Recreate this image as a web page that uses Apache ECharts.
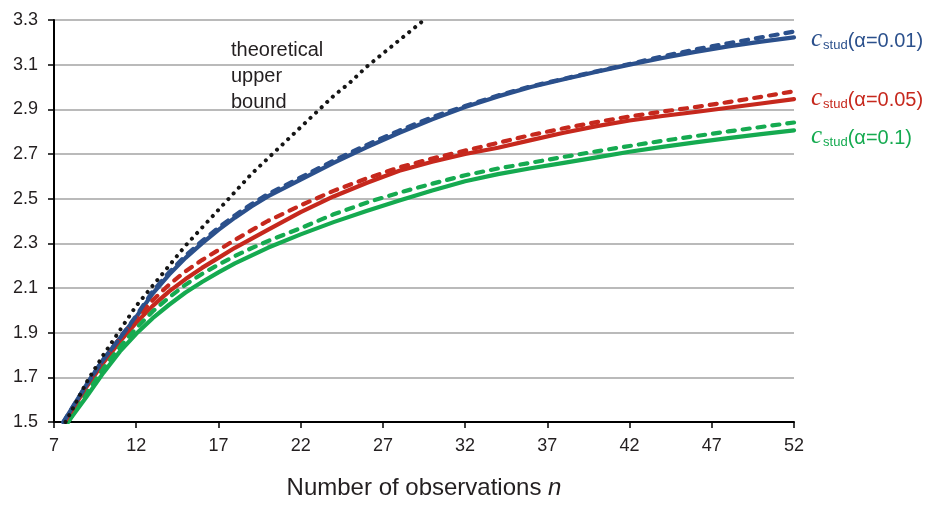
<!DOCTYPE html>
<html>
<head>
<meta charset="utf-8">
<script src="https://cdn.jsdelivr.net/npm/echarts@6/dist/echarts.min.js"></script>
<style>
html,body{margin:0;padding:0;background:#fff;}
#chart{width:932px;height:505px;}
</style>
</head>
<body>
<div id="chart"></div>
<script>
// ---- data ----
const xTicks = [7, 12, 17, 22, 27, 32, 37, 42, 47, 52];
const yTicks = [1.5, 1.7, 1.9, 2.1, 2.3, 2.5, 2.7, 2.9, 3.1, 3.3];

const boundN = [7.7, 8, 9, 10, 11, 12, 13, 14, 15, 16, 17, 18, 19, 20, 21, 22, 23, 24, 25, 26, 27, 28, 29, 29.5];
const boundV = [1.50, 1.54, 1.68, 1.80, 1.91, 2.02, 2.11, 2.20, 2.29, 2.37, 2.45, 2.53, 2.61, 2.68, 2.75, 2.82, 2.89, 2.96, 3.02, 3.09, 3.15, 3.21, 3.27, 3.30];

const n01 = [7.57, 9, 10, 11, 12, 13, 14, 15, 16, 17, 18, 19, 20, 22, 24, 26, 28, 30, 32, 34, 36, 38, 40, 42, 44, 46, 48, 50, 52];
const solid01 = [1.50, 1.67, 1.78, 1.875, 1.97, 2.075, 2.16, 2.235, 2.30, 2.36, 2.415, 2.465, 2.51, 2.585, 2.66, 2.73, 2.795, 2.855, 2.91, 2.958, 3.00, 3.035, 3.068, 3.10, 3.13, 3.157, 3.182, 3.203, 3.222];
const dashed01 = [1.50, 1.67, 1.78, 1.875, 1.975, 2.085, 2.17, 2.245, 2.31, 2.37, 2.425, 2.475, 2.52, 2.595, 2.67, 2.74, 2.805, 2.865, 2.915, 2.962, 3.003, 3.037, 3.07, 3.103, 3.137, 3.168, 3.196, 3.222, 3.248];

const n05 = [7.65, 9, 10, 11, 12, 13, 14, 15, 16, 17, 18, 19, 20, 22, 24, 26, 28, 30, 32, 34, 36, 38, 40, 42, 44, 46, 48, 50, 52];
const solid05 = [1.50, 1.66, 1.765, 1.86, 1.945, 2.02, 2.085, 2.14, 2.19, 2.235, 2.28, 2.32, 2.36, 2.44, 2.51, 2.57, 2.625, 2.665, 2.70, 2.728, 2.762, 2.795, 2.825, 2.85, 2.87, 2.888, 2.907, 2.926, 2.946];
const dashed05 = [1.50, 1.665, 1.775, 1.875, 1.965, 2.045, 2.115, 2.175, 2.225, 2.27, 2.315, 2.358, 2.40, 2.47, 2.535, 2.59, 2.64, 2.68, 2.715, 2.75, 2.785, 2.815, 2.843, 2.868, 2.89, 2.91, 2.932, 2.956, 2.981];

const n10 = [7.85, 9, 10, 11, 12, 13, 14, 15, 16, 17, 18, 19, 20, 22, 24, 26, 28, 30, 32, 34, 36, 38, 40, 42, 44, 46, 48, 50, 52];
const solid10 = [1.50, 1.615, 1.72, 1.815, 1.895, 1.965, 2.025, 2.08, 2.127, 2.17, 2.21, 2.245, 2.28, 2.34, 2.395, 2.445, 2.492, 2.537, 2.578, 2.61, 2.636, 2.66, 2.685, 2.71, 2.732, 2.752, 2.771, 2.789, 2.806];
const dashed10 = [1.50, 1.63, 1.74, 1.835, 1.92, 1.995, 2.058, 2.115, 2.163, 2.205, 2.243, 2.278, 2.31, 2.368, 2.43, 2.482, 2.527, 2.567, 2.605, 2.635, 2.661, 2.687, 2.712, 2.736, 2.759, 2.78, 2.801, 2.821, 2.841];

const seriesLabels = ['(α=0.01)', '(α=0.05)', '(α=0.1)'];
const boundText = 'theoretical\nupper\nbound';

// ---- styling ----
const BLUE = '#2b508c', RED = '#c6281d', GREEN = '#15aa50';
const FONT = '"Liberation Sans", Arial, Helvetica, sans-serif';

function pts(xs, ys) { return xs.map((x, i) => [x, ys[i]]); }

function endLab(text, color, dy) {
  return {
    show: true,
    formatter: '{c|c}{s|stud}{p|' + text + '}',
    offset: [9, dy],
    color: color,
    rich: {
      c: { fontFamily: '"Liberation Serif", "Times New Roman", serif', fontStyle: 'italic', fontSize: 25, color: color, padding: [0, 1, 3, 0] },
      s: { fontFamily: FONT, fontSize: 13, color: color, padding: [9, 0, 0, 0] },
      p: { fontFamily: FONT, fontSize: 20, color: color }
    }
  };
}

function line(name, data, color, dashed, label) {
  const s = {
    name: name,
    type: 'line',
    data: data,
    showSymbol: false,
    symbol: 'none',
    smooth: false,
    clip: true,
    silent: true,
    lineStyle: { color: color, width: dashed ? 4.2 : 4.2, type: dashed ? [7, 8] : 'solid', cap: 'round', join: 'round' },
    z: dashed ? 3 : 2
  };
  if (label) s.endLabel = label;
  return s;
}

const series = [
  line('g solid', pts(n10, solid10), GREEN, false, endLab(seriesLabels[2], GREEN, 8)),
  line('g dashed', pts(n10, dashed10), GREEN, true, null),
  line('r solid', pts(n05, solid05), RED, false, endLab(seriesLabels[1], RED, 1)),
  line('r dashed', pts(n05, dashed05), RED, true, null),
  line('b solid', pts(n01, solid01), BLUE, false, endLab(seriesLabels[0], BLUE, 4)),
  line('b dashed', pts(n01, dashed01), BLUE, true, null)
];
const bound = line('bound', pts(boundN, boundV), '#151515', false, null);
bound.lineStyle = { color: '#151515', width: 4, type: [0.1, 7.6], cap: 'round' };
bound.z = 5;
series.unshift(bound);

const chart = echarts.init(document.getElementById('chart'), null, { renderer: 'canvas' });
chart.setOption({
  animation: false,
  backgroundColor: '#ffffff',
  grid: { left: 54, right: 138, top: 20, bottom: 73, containLabel: false },
  xAxis: {
    type: 'value', min: 7, max: 52,
    name: 'Number of observations {i|n}',
    nameLocation: 'middle', nameGap: 54,
    nameTextStyle: { fontFamily: FONT, fontSize: 24, color: '#231f20', rich: { i: { fontFamily: FONT, fontStyle: 'italic', fontSize: 24, color: '#231f20' } } },
    axisLine: { show: true, lineStyle: { color: '#000', width: 2 } },
    axisTick: { show: true, customValues: xTicks, length: 6, lineStyle: { color: '#000', width: 1.5 } },
    axisLabel: { customValues: xTicks, fontFamily: FONT, fontSize: 18, color: '#231f20', margin: 15 },
    splitLine: { show: false }
  },
  yAxis: {
    type: 'value', min: 1.5, max: 3.3,
    axisLine: { show: true, lineStyle: { color: '#000', width: 2 } },
    axisTick: { show: true, customValues: yTicks, length: 6, lineStyle: { color: '#000', width: 1.5 } },
    axisLabel: { customValues: yTicks, fontFamily: FONT, fontSize: 18, color: '#231f20', margin: 16, formatter: v => v.toFixed(1) },
    splitLine: { show: true, lineStyle: { color: '#a3a3a3', width: 1.5 } }
  },
  graphic: [{
    type: 'text', left: 231, top: 37, silent: true,
    style: { text: boundText, fontFamily: FONT, fontSize: 20, lineHeight: 26, fill: '#231f20' }
  }],
  series: series
});
</script>
</body>
</html>
